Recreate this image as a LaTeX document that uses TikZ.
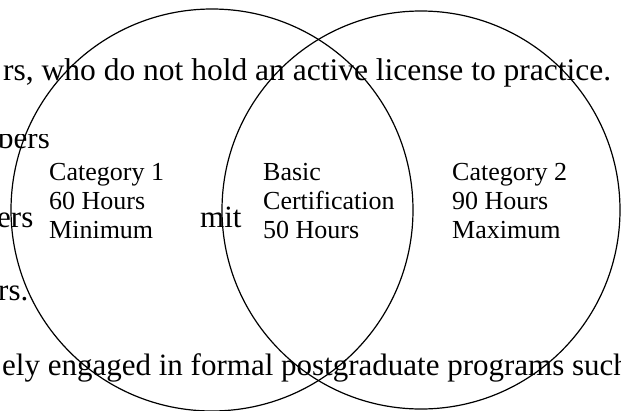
\documentclass[tikz,border=0pt]{standalone}
\usepackage{fontspec}
\setmainfont{Liberation Serif}
\begin{document}
\begin{tikzpicture}[x=1pt,y=-1pt,
  bgtext/.style={inner sep=0pt,anchor=base west,font=\fontsize{31}{36}\selectfont},
  label/.style={inner sep=0pt,anchor=base west,align=left,font=\fontsize{26}{29}\selectfont},
  ring/.style={draw=black,line width=1.2pt}]
\useasboundingbox (0,0) rectangle (621,410);
\begin{scope}
\clip (0,0) rectangle (621,410);
% background text fragments
\node[bgtext,font=\fontsize{31.5}{36}\selectfont] (t1) at (3,80) {rs, who do not hold an active license to practice.};
\begin{scope}
\clip (0,134) rectangle (60,165);
\node[bgtext] (t2) at (-2,148) {bers};
\end{scope}
\node[bgtext] (t3) at (-3,227) {ers};
\node[bgtext] (t4) at (200,227) {mit};
\node[bgtext] (t5) at (-2,300) {rs.};
\node[bgtext] (t6) at (2,375) {ely engaged in formal postgraduate programs such};
% labels (anchor at baseline of last line)
\node[label] (c1) at (49,238) {Category 1\\60 Hours\\Minimum};
\node[label] (bc) at (263,238) {Basic\\Certification\\50 Hours};
\node[label] (c2) at (452,238) {Category 2\\90 Hours\\Maximum};
% circles
\draw[ring] (212,210) circle[radius=201];
\draw[ring] (421,210) circle[radius=199];
\end{scope}
\end{tikzpicture}
\end{document}
